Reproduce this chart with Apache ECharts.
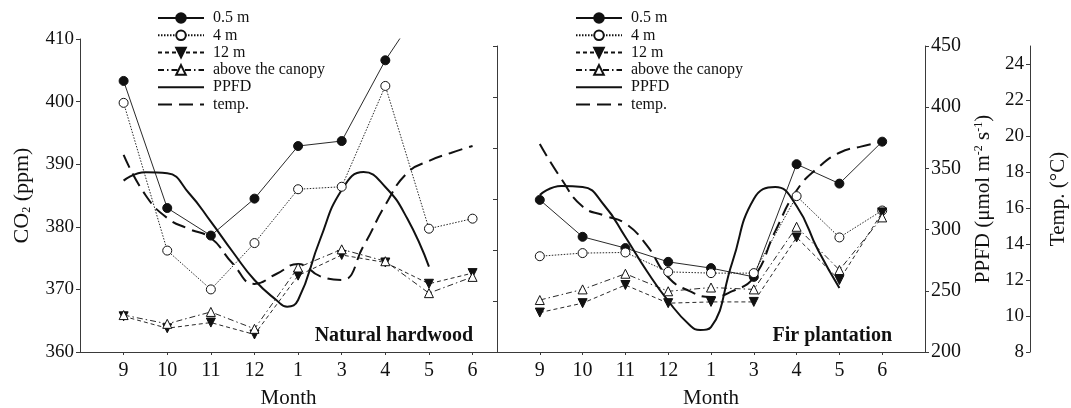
<!DOCTYPE html>
<html>
<head>
<meta charset="utf-8">
<script src="https://cdn.jsdelivr.net/npm/echarts@6.0.0/dist/echarts.min.js"></script>
<style>
html, body { margin: 0; padding: 0; background: #fff; }
#chart { width: 1071px; height: 408px; }
</style>
</head>
<body>
<div id="chart"></div>
<script>
// month order on the x axis (index 0..8)
const months = ['9', '10', '11', '12', '1', '3', '4', '5', '6'];
const monthIdx = months.map((m, i) => i);

// CO2 (ppm), natural hardwood
const hard05 = [403.3, 383.0, 378.6, 384.5, 392.9, 393.7, 406.6, 417.0, null];
const hard4 = [399.8, 376.2, 370.0, 377.4, 386.0, 386.4, 402.5, 379.7, 381.3];
const hard12 = [365.7, 363.8, 364.7, 362.8, 372.2, 375.5, 374.3, 370.9, 372.6];
const hardAbove = [365.9, 364.5, 366.4, 363.7, 373.5, 376.4, 374.5, 369.4, 372.0];

// CO2 (ppm), fir plantation
const fir05 = [384.3, 378.4, 376.6, 374.4, 373.4, 372.0, 390.0, 386.9, 393.6];
const fir4 = [375.3, 375.8, 375.9, 372.8, 372.6, 372.6, 384.9, 378.3, 382.6];
const fir12 = [366.3, 367.8, 370.7, 367.8, 368.0, 368.0, 378.3, 371.5, 382.3];
const firAbove = [368.3, 370.0, 372.5, 369.7, 370.3, 370.0, 380.0, 373.1, 381.5];

// PPFD and temperature curves, read at month positions (fractions between months)
const hardPpfdAt = [0, 0.5, 1, 1.5, 2, 2.5, 3, 3.5, 3.75, 4, 4.5, 5, 5.5, 6, 6.5, 7];
const hardPpfd = [340.0, 346.8, 346.0, 329.7, 306.5, 281.9, 258.8, 242.5, 237.0, 242.5, 291.5, 332.4, 347.1, 334.8, 309.2, 269.7];
const hardTempAt = [0, 0.5, 1, 1.5, 2, 2.5, 3, 3.5, 4, 4.5, 5, 5.5, 6, 6.5, 7, 7.5, 8];
const hardTemp = [18.91, 16.69, 15.42, 14.81, 14.31, 12.9, 11.77, 12.32, 12.87, 12.2, 11.99, 13.87, 16.14, 17.91, 18.58, 19.02, 19.41];

const firPpfdAt = [0, 0.5, 1, 1.5, 2, 2.5, 3, 3.5, 3.75, 4, 4.5, 5, 5.5, 6, 6.5, 7];
const firPpfd = [328.3, 335.6, 334.8, 320.1, 294.0, 266.2, 241.7, 222.1, 218.0, 220.4, 273.5, 325.0, 334.8, 319.3, 283.3, 252.3];
const firTempAt = [0, 0.5, 1, 1.5, 2, 2.5, 3, 3.5, 4, 4.5, 5, 5.5, 6, 6.5, 7, 7.5, 8];
const firTemp = [19.56, 17.63, 16.08, 15.59, 15.14, 13.92, 12.15, 11.38, 11.05, 11.38, 12.15, 14.7, 16.97, 18.24, 19.07, 19.41, 19.68];

const markNames = ['0.5 m', '4 m', '12 m', 'above the canopy'];
const curveNames = ['PPFD', 'temp.'];

const serif = '"Liberation Serif", "DejaVu Serif", serif';
const ink = '#111';
const axisInk = '#3a3a3a';

const chart = echarts.init(document.getElementById('chart'));

function pairs(xs, ys) {
    return xs.map((x, i) => [x, ys[i]]).filter(p => p[1] != null);
}

function monthAxis(gridIndex, max) {
    return {
        type: 'value',
        gridIndex: gridIndex,
        min: -1,
        max: max,
        interval: 1,
        name: 'Month',
        nameLocation: 'middle',
        nameGap: 36,
        nameTextStyle: {fontFamily: serif, fontSize: 21, color: ink},
        axisLine: {show: true, onZero: false, lineStyle: {color: axisInk, width: 1}},
        axisTick: {show: true, length: 3, customValues: monthIdx, lineStyle: {color: axisInk}},
        axisLabel: {
            customValues: monthIdx,
            margin: 9,
            fontFamily: serif,
            fontSize: 20,
            color: ink,
            formatter: v => months[v]
        },
        splitLine: {show: false}
    };
}

function hiddenAxis(gridIndex, min, max) {
    return {type: 'value', gridIndex: gridIndex, min: min, max: max, show: false, splitLine: {show: false}};
}

const axisLine = {show: true, onZero: false, lineStyle: {color: axisInk}};

const markStyles = {
    '0.5 m': {line: 'solid', symbol: 'circle', rotate: 0, fill: ink},
    '4 m': {line: [1.5, 1.5], symbol: 'circle', rotate: 0, fill: '#fff'},
    '12 m': {line: [4, 3], symbol: 'triangle', rotate: 180, fill: ink},
    'above the canopy': {line: [6, 3, 1.5, 3], symbol: 'triangle', rotate: 0, fill: '#fff'}
};

function co2Series(name, values, xIdx, yIdx) {
    const s = markStyles[name];
    return {
        name: name,
        type: 'line',
        xAxisIndex: xIdx,
        yAxisIndex: yIdx,
        data: pairs(monthIdx, values),
        symbol: s.symbol,
        symbolRotate: s.rotate,
        symbolSize: 9,
        clip: true,
        lineStyle: {color: ink, width: 0.9, type: s.line},
        itemStyle: {color: s.fill, borderColor: ink, borderWidth: 1},
        z: 3
    };
}

function curveSeries(name, xs, ys, xIdx, yIdx) {
    return {
        name: name,
        type: 'line',
        xAxisIndex: xIdx,
        yAxisIndex: yIdx,
        data: pairs(xs, ys),
        symbol: 'none',
        smooth: 0.5,
        clip: true,
        lineStyle: {color: ink, width: 2, type: name === 'PPFD' ? 'solid' : [14, 7]},
        itemStyle: {color: ink},
        z: 2
    };
}

function legendAt(left) {
    // curves get no marker in the key, only their line
    const items = markNames.map(n => ({name: n}))
        .concat(curveNames.map(n => ({name: n, itemStyle: {opacity: 0}})));
    return {
        left: left,
        top: 10,
        padding: 0,
        orient: 'vertical',
        itemWidth: 46,
        itemHeight: 12,
        itemGap: 1.3,
        selectedMode: false,
        data: items,
        textStyle: {fontFamily: serif, fontSize: 16, color: ink, lineHeight: 16, padding: [0, 0, 0, 4]}
    };
}

const option = {
    backgroundColor: '#fff',
    animation: false,
    legend: [legendAt(157), legendAt(575)],
    grid: [
        {left: 80, right: 574, top: 39, bottom: 56, outerBoundsMode: 'none'},
        {left: 497, right: 146, top: 46, bottom: 56, outerBoundsMode: 'none'}
    ],
    xAxis: [monthAxis(0, 8.56), monthAxis(1, 9)],
    yAxis: [
        {
            type: 'value',
            gridIndex: 0,
            position: 'left',
            min: 360,
            max: 410,
            interval: 10,
            name: 'CO{sub|2} (ppm)',
            nameLocation: 'middle',
            nameGap: 47,
            nameTextStyle: {
                fontFamily: serif, fontSize: 22, color: ink,
                rich: {sub: {fontFamily: serif, fontSize: 12, color: ink, padding: [9, 0, 0, 0]}}
            },
            axisLine: axisLine,
            axisTick: {show: true, length: 4, lineStyle: {color: axisInk}},
            axisLabel: {margin: 6, fontFamily: serif, fontSize: 19, color: ink},
            splitLine: {show: false}
        },
        hiddenAxis(0, 200, 455.72),
        hiddenAxis(0, 8, 25.33),
        hiddenAxis(1, 360, 408.88),
        {
            type: 'value',
            gridIndex: 1,
            position: 'right',
            min: 200,
            max: 450,
            interval: 50,
            name: 'PPFD (μmol m{sup|-2} s{sup|-1})',
            nameLocation: 'middle',
            nameGap: 48,
            nameTextStyle: {
                fontFamily: serif, fontSize: 21, color: ink,
                rich: {sup: {fontFamily: serif, fontSize: 12, color: ink, padding: [0, 0, 9, 0]}}
            },
            axisLine: axisLine,
            axisTick: {show: true, length: 4, lineStyle: {color: axisInk}},
            axisLabel: {margin: 6, fontFamily: serif, fontSize: 20, color: ink},
            splitLine: {show: false}
        },
        {
            type: 'value',
            gridIndex: 1,
            position: 'right',
            offset: 105,
            min: 8,
            max: 25,
            interval: 2,
            name: 'Temp. (°C)',
            nameLocation: 'middle',
            nameGap: 18,
            nameTextStyle: {fontFamily: serif, fontSize: 21, color: ink},
            axisLine: axisLine,
            axisTick: {show: true, inside: true, length: 4, lineStyle: {color: axisInk}},
            axisLabel: {inside: true, margin: 6, showMaxLabel: false, fontFamily: serif, fontSize: 19, color: ink},
            splitLine: {show: false}
        },
        {
            type: 'value',
            gridIndex: 1,
            position: 'left',
            min: 0,
            max: 6,
            interval: 1,
            axisLine: axisLine,
            axisTick: {show: true, length: 4, lineStyle: {color: axisInk}},
            axisLabel: {show: false},
            splitLine: {show: false}
        }
    ],
    graphic: [
        {
            type: 'text', right: 1071 - 473, top: 326,
            style: {text: 'Natural hardwood', font: 'bold 20px ' + serif, fill: ink}
        },
        {
            type: 'text', right: 1071 - 892, top: 326,
            style: {text: 'Fir plantation', font: 'bold 20px ' + serif, fill: ink}
        }
    ],
    series: [
        co2Series('0.5 m', hard05, 0, 0),
        co2Series('4 m', hard4, 0, 0),
        co2Series('12 m', hard12, 0, 0),
        co2Series('above the canopy', hardAbove, 0, 0),
        curveSeries('PPFD', hardPpfdAt, hardPpfd, 0, 1),
        curveSeries('temp.', hardTempAt, hardTemp, 0, 2),
        co2Series('0.5 m', fir05, 1, 3),
        co2Series('4 m', fir4, 1, 3),
        co2Series('12 m', fir12, 1, 3),
        co2Series('above the canopy', firAbove, 1, 3),
        curveSeries('PPFD', firPpfdAt, firPpfd, 1, 4),
        curveSeries('temp.', firTempAt, firTemp, 1, 5)
    ]
};

chart.setOption(option);
</script>
</body>
</html>
